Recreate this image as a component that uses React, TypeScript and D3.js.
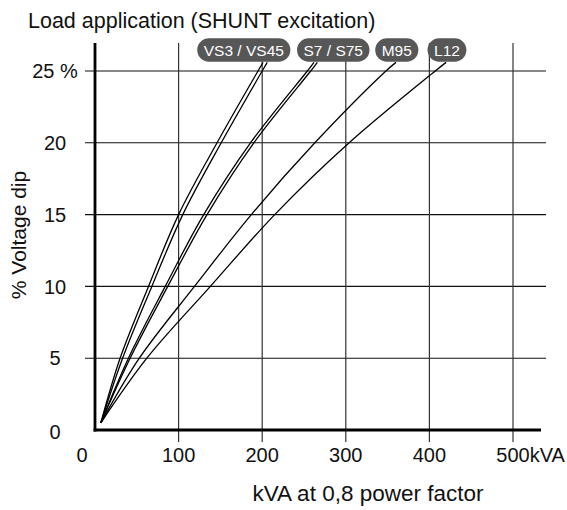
import React, { useEffect, useRef } from "react";
import * as d3 from "d3";

// ---- data ----
const pctLevels = [0.5, 5, 10, 15, 20, 25, 25.6];
const vs3Kva = [7, 30, 64, 100, 146, 195, 201];
const vs45Kva = [7, 33, 68, 105, 151, 200, 206];
const s7Kva = [7, 40, 84, 130, 186, 254, 262];
const s75Kva = [7, 42, 87, 134, 190, 258, 266];
const m95Kva = [7, 53, 119, 187, 263, 348, 360];
const l12Kva = [7, 62, 138, 215, 304, 407, 420];

const seriesKva = [vs3Kva, vs45Kva, s7Kva, s75Kva, m95Kva, l12Kva];

const pillLabels = ["VS3 / VS45", "S7 / S75", "M95", "L12"];
const pillAnchorKva = [178, 285, 361, 421];

const xTicks = [0, 100, 200, 300, 400, 500];
const yTicks = [0, 5, 10, 15, 20, 25];
const yTickLabels = ["0", "5", "10", "15", "20", "25 %"];

const titleText = "Load application (SHUNT excitation)";
const xAxisTitle = "kVA at 0,8 power factor";
const yAxisTitle = "% Voltage dip";

const FONT = "'Liberation Sans', Arial, Helvetica, sans-serif";

export default function App() {
  const ref = useRef<SVGSVGElement | null>(null);

  useEffect(() => {
    const svg = d3.select(ref.current);
    svg.selectAll("*").remove();

    const x = d3.scaleLinear().domain([0, 500]).range([95, 513]);
    const y = d3.scaleLinear().domain([0, 25]).range([430, 71]);

    const gridTop = 43;
    const gridBottom = 442;
    const hLeft = 85;
    const hRight = 546;

    // horizontal grid lines
    svg
      .append("g")
      .selectAll("line")
      .data(yTicks.filter((d) => d > 0))
      .join("line")
      .attr("x1", hLeft)
      .attr("x2", hRight)
      .attr("y1", (d) => y(d))
      .attr("y2", (d) => y(d))
      .attr("stroke", "#111")
      .attr("stroke-width", 1.1);

    // vertical grid lines
    svg
      .append("g")
      .selectAll("line")
      .data(xTicks.filter((d) => d > 0))
      .join("line")
      .attr("x1", (d) => x(d))
      .attr("x2", (d) => x(d))
      .attr("y1", gridTop)
      .attr("y2", gridBottom)
      .attr("stroke", "#333")
      .attr("stroke-width", 1.2);

    // axes (thick)
    svg
      .append("line")
      .attr("x1", x(0))
      .attr("x2", x(0))
      .attr("y1", gridTop)
      .attr("y2", y(0) + 1.4)
      .attr("stroke", "#000")
      .attr("stroke-width", 2.8);
    svg
      .append("line")
      .attr("x1", x(0) - 1.4)
      .attr("x2", 541)
      .attr("y1", y(0))
      .attr("y2", y(0))
      .attr("stroke", "#000")
      .attr("stroke-width", 2.8);

    // curves
    const line = d3
      .line<[number, number]>()
      .x((d) => x(d[0]))
      .y((d) => y(d[1]))
      .curve(d3.curveCatmullRom.alpha(0.5));

    svg
      .append("g")
      .selectAll("path")
      .data(seriesKva.map((arr) => arr.map((k, i) => [k, pctLevels[i]] as [number, number])))
      .join("path")
      .attr("d", (d) => line(d))
      .attr("fill", "none")
      .attr("stroke", "#000")
      .attr("stroke-width", 1.3);

    // pills
    const pillG = svg.append("g");
    pillLabels.forEach((label, i) => {
      const cx = x(pillAnchorKva[i]);
      const cy = 50;
      const g = pillG.append("g");
      const rect = g.append("rect").attr("fill", "#575757");
      const t = g
        .append("text")
        .attr("x", cx)
        .attr("y", cy)
        .attr("dy", "0.36em")
        .attr("text-anchor", "middle")
        .attr("font-family", FONT)
        .attr("font-size", 15.5)
        .attr("fill", "#fff")
        .text(label);
      const w = (t.node() as SVGTextElement).getComputedTextLength();
      const pw = w + 13;
      const ph = 23.5;
      rect
        .attr("x", cx - pw / 2)
        .attr("y", cy - ph / 2)
        .attr("width", pw)
        .attr("height", ph)
        .attr("rx", ph / 2)
        .attr("ry", ph / 2);
    });

    // x tick labels
    const xl = svg.append("g");
    xTicks.forEach((d) => {
      const px = d === 0 ? x(0) - 13 : x(d);
      xl.append("text")
        .attr("x", px)
        .attr("y", 462)
        .attr("text-anchor", "middle")
        .attr("font-family", FONT)
        .attr("font-size", 20)
        .attr("fill", "#111")
        .text(String(d));
      if (d === 500) {
        xl.append("text")
          .attr("x", px)
          .attr("dx", "0.834em")
          .attr("y", 462)
          .attr("text-anchor", "start")
          .attr("font-family", FONT)
          .attr("font-size", 20)
          .attr("fill", "#111")
          .text("kVA");
      }
    });

    // y tick labels
    svg
      .append("g")
      .selectAll("text")
      .data(yTicks)
      .join("text")
      .attr("x", 55)
      .attr("y", (d) => (d === 0 ? y(0) + 1.5 : y(d)))
      .attr("dy", "0.36em")
      .attr("text-anchor", "middle")
      .attr("font-family", FONT)
      .attr("font-size", 20)
      .attr("fill", "#111")
      .text((d, i) => yTickLabels[i]);

    // title
    svg
      .append("text")
      .attr("x", 28)
      .attr("y", 28)
      .attr("font-family", FONT)
      .attr("font-size", 21.5)
      .attr("fill", "#111")
      .text(titleText);

    // x axis title
    svg
      .append("text")
      .attr("x", 368)
      .attr("y", 501)
      .attr("text-anchor", "middle")
      .attr("font-family", FONT)
      .attr("font-size", 22.5)
      .attr("fill", "#111")
      .text(xAxisTitle);

    // y axis title
    svg
      .append("text")
      .attr("transform", `translate(26, 235) rotate(-90)`)
      .attr("text-anchor", "middle")
      .attr("font-family", FONT)
      .attr("font-size", 21)
      .attr("fill", "#111")
      .text(yAxisTitle);
  }, []);

  return (
    <svg
      ref={ref}
      width={567}
      height={510}
      style={{ position: "absolute", left: 0, top: 0, background: "#fff" }}
    />
  );
}
